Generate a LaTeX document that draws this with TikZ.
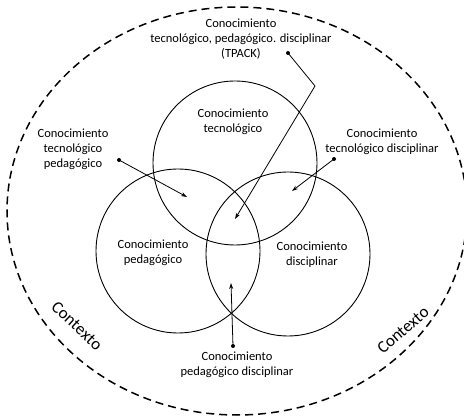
\documentclass[tikz,border=0pt]{standalone}
\usepackage{fontspec}
\setmainfont{Carlito}
\usetikzlibrary{arrows.meta}
\begin{document}
\begin{tikzpicture}[x=1pt,y=-1pt,
 lbl/.style={align=center,font=\fontsize{12.5}{15}\selectfont,inner sep=0pt},
 ctx/.style={font=\fontsize{17}{20}\selectfont,inner sep=0pt},
 ring/.style={draw,line width=0.9pt},
 dotnode/.style={circle,fill,inner sep=0pt,minimum size=4pt},
 pointer/.style={line width=0.8pt,-{Stealth[length=6pt,width=4pt]}}]
\useasboundingbox (0,0) rectangle (464,417);
\begin{scope}
\clip (0,0) rectangle (464,417);
\draw[line width=1.5pt,dash pattern=on 8pt off 5pt] (237,211) ellipse [x radius=230, y radius=204];
\end{scope}
\draw[ring] (235,163) circle [radius=82];
\draw[ring] (178,251) circle [radius=82];
\draw[ring] (288,254) circle [radius=82];
\node[lbl] (tpack) at (241,39) {Conocimiento\\tecnológico, pedagógico. disciplinar\\(TPACK)};
\node[lbl] (tp) at (73,149) {Conocimiento\\tecnológico\\pedagógico};
\node[lbl] (td) at (382,142) {Conocimiento\\tecnológico disciplinar};
\node[lbl] (pd) at (237,365) {Conocimiento\\pedagógico disciplinar};
\node[lbl] (ct) at (233,122) {Conocimiento\\tecnológico};
\node[lbl] (cp) at (153,253) {Conocimiento\\pedagógico};
\node[lbl] (cd) at (312,255) {Conocimiento\\disciplinar};
\node[ctx,rotate=-43] (ctxl) at (77,326) {Contexto};
\node[ctx,rotate=41] (ctxr) at (403,330) {Contexto};
\node[dotnode] (d1) at (288,53) {};
\coordinate (b1) at (315,86);
\coordinate (t1) at (235,219);
\draw[pointer] (d1.center) -- (b1) -- (t1);
\node[dotnode] (d2) at (119,160) {};
\coordinate (t2) at (187,197);
\draw[pointer] (d2.center) -- (t2);
\node[dotnode] (d3) at (334,159) {};
\coordinate (t3) at (292,191);
\draw[pointer] (d3.center) -- (t3);
\node[dotnode] (d4) at (233,346) {};
\coordinate (t4) at (231,283);
\draw[pointer] (d4.center) -- (t4);
\end{tikzpicture}
\end{document}
